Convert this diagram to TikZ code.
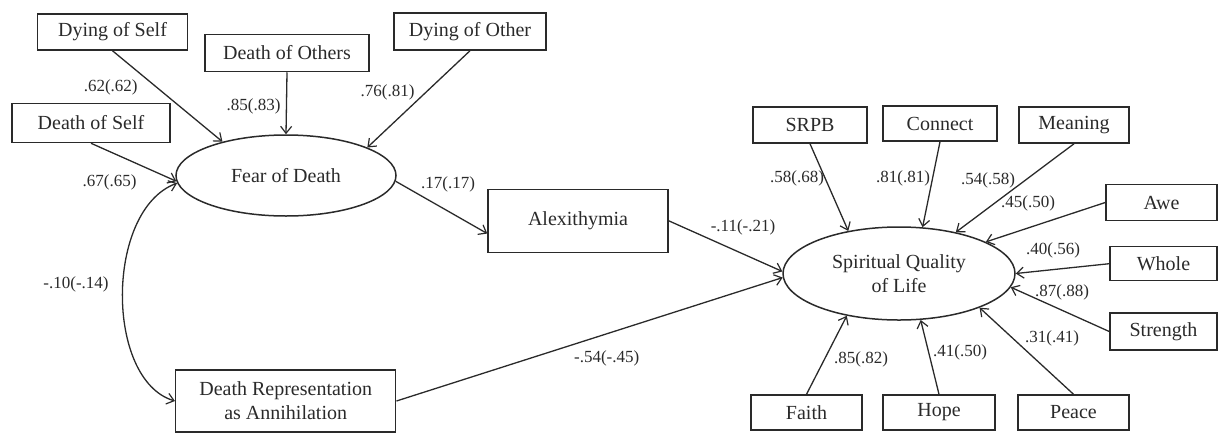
\documentclass[tikz,border=0pt]{standalone}
\usepackage{fontspec}
\setmainfont{Liberation Serif}
\usetikzlibrary{arrows.meta,shapes.geometric}
\definecolor{ink}{HTML}{2A2A2A}
\tikzset{
  box/.style={draw=ink, line width=1.5pt, rectangle, inner sep=0pt, align=center, text=ink,
    font=\fontsize{20}{24}\selectfont},
  latent/.style={draw=ink, line width=1.5pt, ellipse, inner sep=0pt, align=center, text=ink,
    font=\fontsize{20}{24}\selectfont},
  lbl/.style={text=ink, inner sep=0pt, font=\fontsize{17}{20}\selectfont},
  path/.style={draw=ink, line width=1.3pt, -{Straight Barb[length=7pt,width=11pt,line width=1.2pt]}},
  cov/.style={draw=ink, line width=1.3pt, {Straight Barb[length=7pt,width=11pt,line width=1.2pt]}-{Straight Barb[length=7pt,width=11pt,line width=1.2pt]}}
}
\begin{document}
\begin{tikzpicture}[x=1pt,y=-1pt]
\useasboundingbox (0,0) rectangle (1218,432);
% left indicators
\node[box, minimum width=150pt, minimum height=36pt] (dys) at (112.5,32) {Dying of Self};
\node[box, minimum width=164pt, minimum height=37pt] (deo) at (287,53) {Death of Others};
\node[box, minimum width=152pt, minimum height=37pt] (dyo) at (470,31.5) {Dying of Other};
\node[box, minimum width=158pt, minimum height=39pt] (des) at (91,123) {Death of Self};
% latent fear
\node[latent, minimum width=220pt, minimum height=81pt] (fear) at (286,175.5) {Fear of Death};
% mediators
\node[box, minimum width=180pt, minimum height=63pt] (alex) at (578,220.8) {Alexithymia};
\node[box, minimum width=220pt, minimum height=62pt] (dr) at (285.7,401) {Death Representation\\as Annihilation};
% latent SQL
\node[latent, minimum width=232pt, minimum height=93pt] (sql) at (899,273.5) {Spiritual Quality\\of Life};
% right indicators
\node[box, minimum width=114pt, minimum height=36pt] (srpb) at (810,125) {SRPB};
\node[box, minimum width=114pt, minimum height=35pt] (con) at (940,123.5) {Connect};
\node[box, minimum width=110pt, minimum height=36pt] (mea) at (1074,125) {Meaning};
\node[box, minimum width=111pt, minimum height=36pt] (awe) at (1161.5,202.5) {Awe};
\node[box, minimum width=107pt, minimum height=34pt] (who) at (1163.5,263.7) {Whole};
\node[box, minimum width=107pt, minimum height=37pt] (str) at (1163.5,331.5) {Strength};
\node[box, minimum width=111pt, minimum height=35pt] (fai) at (806.5,412.5) {Faith};
\node[box, minimum width=112pt, minimum height=35pt] (hop) at (939,412.5) {Hope};
\node[box, minimum width=111pt, minimum height=35pt] (pea) at (1073.5,412.5) {Peace};
% connectors to fear
\draw[path] (dys.south) -- (fear.152);
\draw[path] (deo.south) -- (fear.north);
\draw[path] (dyo.south) -- (fear.19);
\draw[path] (des.south) -- (fear.183);
\draw[path] (fear.357) -- (alex.188);
\draw[cov] (fear.184) .. controls (105,210) and (105,380) .. (dr.west);
\draw[path] (alex.east) -- (sql.179);
\draw[path] (dr.east) -- (sql.182);
% connectors to SQL
\draw[path] (srpb.south) -- (sql.140);
\draw[path] (con.south) -- (sql.63);
\draw[path] (mea.south) -- (sql.36);
\draw[path] (awe.west) -- (sql.20);
\draw[path] (who.west) -- (sql.0);
\draw[path] (str.west) -- (sql.-7);
\draw[path] (fai.north) -- (sql.219);
\draw[path] (hop.north) -- (sql.295);
\draw[path] (pea.north) -- (sql.337);
% labels
\node[lbl] (l1) at (110.7,87.5) {.62(.62)};
\node[lbl] (l2) at (253.6,106) {.85(.83)};
\node[lbl] (l3) at (387.5,92) {.76(.81)};
\node[lbl] (l4) at (109.6,182) {.67(.65)};
\node[lbl] (l5) at (448,184) {.17(.17)};
\node[lbl] (l6) at (76,284.6) {-.10(-.14)};
\node[lbl] (l7) at (743,227) {-.11(-.21)};
\node[lbl] (l8) at (606.7,358) {-.54(-.45)};
\node[lbl] (l9) at (797,178) {.58(.68)};
\node[lbl] (l10) at (903,178) {.81(.81)};
\node[lbl] (l11) at (988,180) {.54(.58)};
\node[lbl] (l12) at (1028,203) {.45(.50)};
\node[lbl] (l13) at (1053,250) {.40(.56)};
\node[lbl] (l14) at (1062,292) {.87(.88)};
\node[lbl] (l15) at (1052,338) {.31(.41)};
\node[lbl] (l16) at (861,359) {.85(.82)};
\node[lbl] (l17) at (960,352) {.41(.50)};
\end{tikzpicture}
\end{document}
